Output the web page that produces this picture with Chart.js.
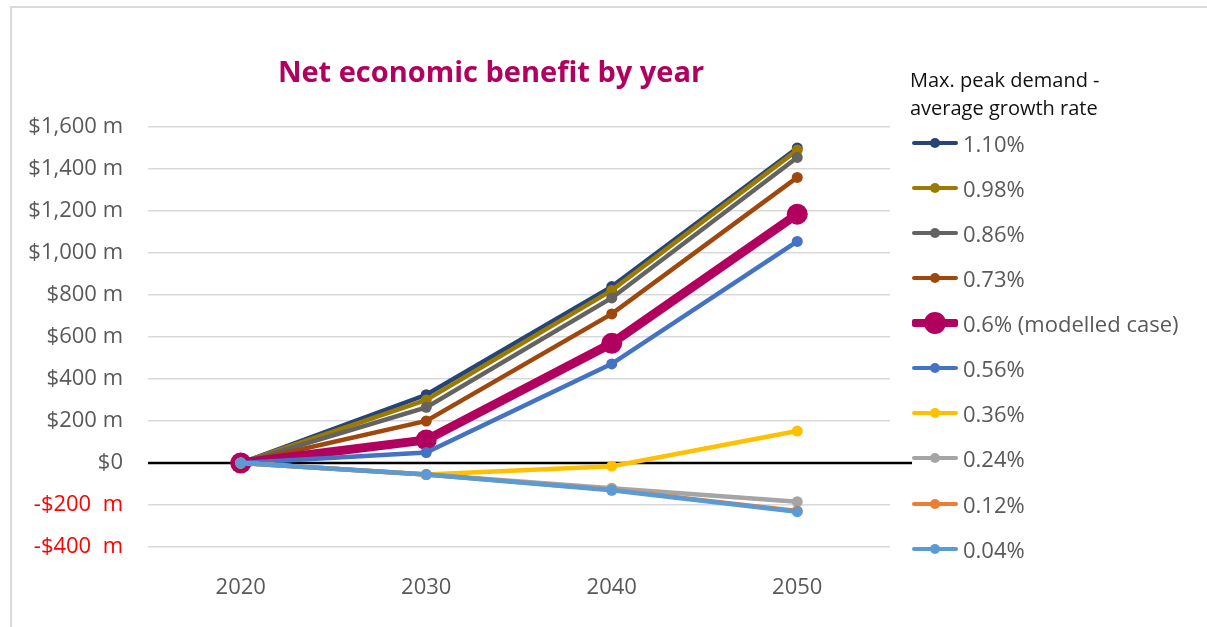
<!DOCTYPE html>
<html>
<head>
<meta charset="utf-8">
<script src="https://cdn.jsdelivr.net/npm/chart.js@4"></script>
<style>
  html, body { margin: 0; padding: 0; background: #fff; }
  #wrap { position: relative; width: 1207px; height: 627px; overflow: hidden; font-family: "Open Sans", sans-serif; }
  #frame { position: absolute; left: 10px; top: 6px; right: -10px; bottom: -10px; border-left: 2px solid #d9d9d9; border-top: 2px solid #d9d9d9; }
  #chartCanvas { position: absolute; left: 0; top: 0; }
  #title { position: absolute; left: 191px; width: 600px; top: 56px; text-align: center; font-weight: bold; font-size: 29px; line-height: 29px; color: #b2005f; }
  #legendTitle { position: absolute; left: 910px; top: 66px; font-size: 20px; line-height: 28px; color: #111; }
  .item { position: absolute; left: 912px; height: 30px; display: flex; align-items: center; }
  .mark { position: relative; width: 46px; height: 30px; }
  .mark .ln { position: absolute; left: 0; right: 0; top: 50%; border-radius: 2px; }
  .mark .dot { position: absolute; left: 50%; top: 50%; border-radius: 50%; }
  .item span.txt { margin-left: 5px; font-size: 22px; color: #595959; white-space: nowrap; }
</style>
</head>
<body>
<div id="wrap">
  <div id="frame"></div>
  <canvas id="chartCanvas" width="1207" height="627"></canvas>
  <div id="title">Net economic benefit by year</div>
  <div id="legendTitle">Max. peak demand -<br>average growth rate</div>
  <div id="legend"></div>
</div>
<script>
// categories and series (values in $ million)
const years = ['2020', '2030', '2040', '2050'];
const seriesLabels = ['1.10%', '0.98%', '0.86%', '0.73%', '0.6% (modelled case)', '0.56%', '0.36%', '0.24%', '0.12%', '0.04%'];
const g110 = [0, 325, 840, 1500];
const g098 = [0, 300, 822, 1490];
const g086 = [0, 265, 786, 1455];
const g073 = [0, 200, 710, 1360];
const g060 = [0, 110, 570, 1185];
const g056 = [0, 50, 472, 1055];
const g036 = [0, -55, -15, 152];
const g024 = [0, -55, -120, -184];
const g012 = [0, -55, -128, -228];
const g004 = [0, -55, -130, -232];
const seriesValues = [g110, g098, g086, g073, g060, g056, g036, g024, g012, g004];
const yTickValues = [-400, -200, 0, 200, 400, 600, 800, 1000, 1200, 1400, 1600];
const yTickLabels = ['-$400  m', '-$200  m', '$0', '$200 m', '$400 m', '$600 m', '$800 m', '$1,000 m', '$1,200 m', '$1,400 m', '$1,600 m'];

const colors = ['#264478', '#9c7a00', '#636363', '#9e480e', '#b2005f', '#4472c4', '#ffc000', '#a5a5a5', '#ed7d31', '#5b9bd5'];
const modelled = 4;

const datasets = seriesValues.map((vals, i) => ({
    label: seriesLabels[i],
    data: vals,
    borderColor: colors[i],
    backgroundColor: colors[i],
    pointBackgroundColor: colors[i],
    pointBorderColor: colors[i],
    borderWidth: i === modelled ? 9 : 4.5,
    pointRadius: i === modelled ? 10.5 : 5.5,
    pointBorderWidth: 0,
    pointHoverRadius: i === modelled ? 10.5 : 5.5,
    tension: 0,
    order: seriesLabels.length - i // later series on top, like Excel
}));

// black zero line, drawn under the series and a bit past the plot
const zeroLine = {
    id: 'zeroLine',
    beforeDatasetsDraw(chart) {
        const { ctx, chartArea, scales } = chart;
        const y = scales.y.getPixelForValue(0);
        ctx.save();
        ctx.strokeStyle = '#000';
        ctx.lineWidth = 2.5;
        ctx.beginPath();
        ctx.moveTo(chartArea.left, y);
        ctx.lineTo(chartArea.right + 22, y);
        ctx.stroke();
        ctx.restore();
    }
};

new Chart(document.getElementById('chartCanvas'), {
    type: 'line',
    data: { labels: years, datasets: datasets },
    plugins: [zeroLine],
    options: {
        responsive: false,
        animation: false,
        layout: { padding: { left: 0, right: 317, top: 127, bottom: 0 } },
        plugins: { legend: { display: false }, tooltip: { enabled: false } },
        scales: {
            x: {
                offset: true,
                grid: { display: false },
                border: { display: false },
                ticks: { color: '#595959', font: { family: 'Open Sans', size: 22 }, padding: 20 },
                afterFit: scale => { scale.height = 80; }
            },
            y: {
                min: -400,
                max: 1600,
                grid: { color: '#d9d9d9', lineWidth: 1.5, drawTicks: false },
                border: { display: false },
                ticks: {
                    stepSize: 200,
                    padding: 25,
                    font: { family: 'Open Sans', size: 22 },
                    color: c => c.tick && c.tick.value < 0 ? '#ff0000' : '#595959',
                    callback: v => yTickLabels[yTickValues.indexOf(v)]
                },
                afterFit: scale => { scale.width = 148; }
            }
        }
    }
});

// legend with line + marker like the Excel one
const legend = document.getElementById('legend');
seriesLabels.forEach((lab, i) => {
    const cy = 142.7 + i * 45.1;
    const big = i === modelled;
    const lw = big ? 8 : 4;
    const r = big ? 11 : 5;
    const row = document.createElement('div');
    row.className = 'item';
    row.style.top = (cy - 15) + 'px';
    row.innerHTML =
        '<div class="mark">' +
        '<div class="ln" style="height:' + lw + 'px;margin-top:' + (-lw / 2) + 'px;background:' + colors[i] + '"></div>' +
        '<div class="dot" style="width:' + 2 * r + 'px;height:' + 2 * r + 'px;margin-left:' + (-r) + 'px;margin-top:' + (-r) + 'px;background:' + colors[i] + '"></div>' +
        '</div><span class="txt">' + lab + '</span>';
    legend.appendChild(row);
});
</script>
</body>
</html>
